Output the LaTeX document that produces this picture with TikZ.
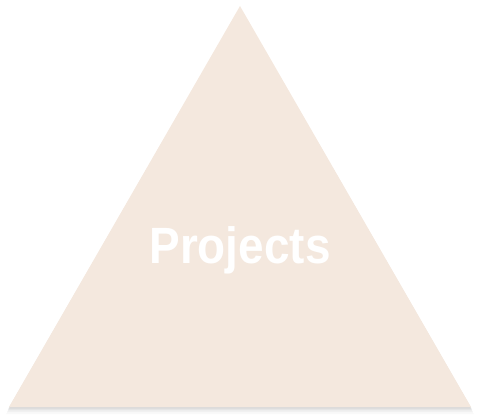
\documentclass[tikz,border=0pt]{standalone}
\usepackage{fontspec}
\setmainfont{Liberation Sans}
\definecolor{sand}{RGB}{244,232,222}
\definecolor{shade}{RGB}{120,110,110}
\begin{document}
\begin{tikzpicture}[x=1pt,y=-1pt,
  tri/.style={fill=sand,draw=none},
  label/.style={text=white,font=\bfseries\fontsize{51}{58}\selectfont,inner sep=0pt,xscale=0.9}]
\useasboundingbox (0,0) rectangle (482,420);
% soft drop shadow under the triangle
\foreach \d/\o in {7/0.025,5/0.035,3/0.05,1.5/0.06}{
  \fill[shade,opacity=\o] (240,6+\d) -- (471+\d*0.4,407+\d) -- (9-\d*0.4,407+\d) -- cycle;
}
\path[tri] (240,6) coordinate (apex) -- (471,407) coordinate (right) -- (9,407) coordinate (left) -- cycle;
\node[label,anchor=base] (title) at (240,263) {Projects};
\end{tikzpicture}
\end{document}
